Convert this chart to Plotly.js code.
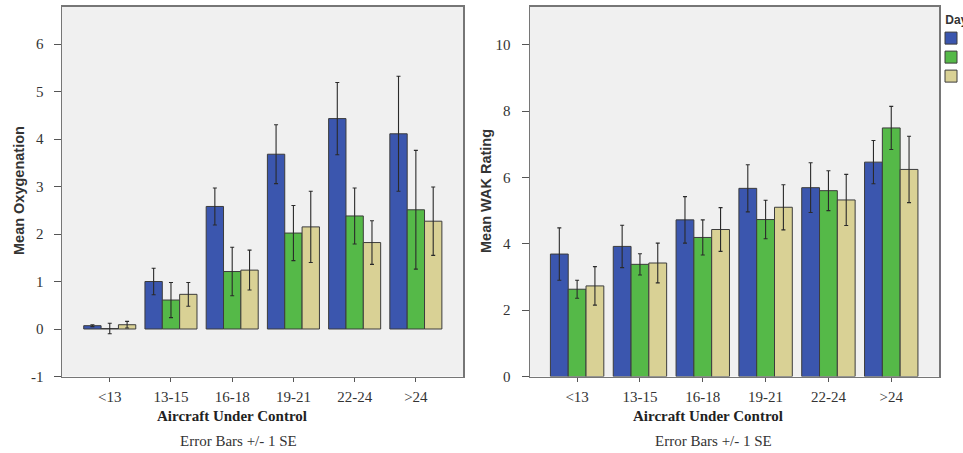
<!DOCTYPE html>
<html>
<head>
<meta charset="utf-8">
<script src="https://cdn.plot.ly/plotly-3.0.1.min.js"></script>
<style>html,body{margin:0;padding:0;background:#fff;}#chart{width:963px;height:453px;}</style>
</head>
<body>
<div id="chart"></div>
<script>
// Categories
const categories = ['<13', '13-15', '16-18', '19-21', '22-24', '>24'];
const dayNames = ['1', '2', '3'];

// Left panel: Mean Oxygenation
const oxyDay1 = [0.07, 1.00, 2.58, 3.68, 4.43, 4.11];
const oxyDay1Err = [0.02, 0.28, 0.39, 0.62, 0.76, 1.21];
const oxyDay2 = [0.01, 0.61, 1.21, 2.02, 2.38, 2.51];
const oxyDay2Err = [0.11, 0.37, 0.51, 0.58, 0.59, 1.25];
const oxyDay3 = [0.09, 0.73, 1.24, 2.15, 1.82, 2.27];
const oxyDay3Err = [0.07, 0.25, 0.42, 0.75, 0.46, 0.72];
const oxyTickVals = [-1, 0, 1, 2, 3, 4, 5, 6];
const oxyTickText = ['-1', '0', '1', '2', '3', '4', '5', '6'];

// Right panel: Mean WAK Rating
const wakDay1 = [3.69, 3.92, 4.72, 5.67, 5.69, 6.46];
const wakDay1Err = [0.79, 0.64, 0.70, 0.71, 0.75, 0.65];
const wakDay2 = [2.63, 3.38, 4.19, 4.73, 5.60, 7.49];
const wakDay2Err = [0.27, 0.32, 0.53, 0.58, 0.60, 0.65];
const wakDay3 = [2.73, 3.42, 4.43, 5.10, 5.32, 6.24];
const wakDay3Err = [0.58, 0.60, 0.66, 0.68, 0.77, 1.00];

const colors = ['#3b56ae', '#55b948', '#d9d195'];
const W = 963, H = 453;

function barTrace(y, err, i, xa, ya, showLegend) {
  return {
    type: 'bar', x: categories, y: y, name: dayNames[i],
    xaxis: xa, yaxis: ya, legendgroup: 'd' + i, showlegend: showLegend,
    marker: {color: colors[i], line: {color: '#3c3c3c', width: 1}},
    error_y: {type: 'data', array: err, visible: true, color: '#2a2a2a', thickness: 1.1, width: 2},
    hoverinfo: 'x+y'
  };
}

const data = [
  barTrace(oxyDay1, oxyDay1Err, 0, 'x', 'y', true),
  barTrace(oxyDay2, oxyDay2Err, 1, 'x', 'y', true),
  barTrace(oxyDay3, oxyDay3Err, 2, 'x', 'y', true),
  barTrace(wakDay1, wakDay1Err, 0, 'x2', 'y2', false),
  barTrace(wakDay2, wakDay2Err, 1, 'x2', 'y2', false),
  barTrace(wakDay3, wakDay3Err, 2, 'x2', 'y2', false)
];

const serif = 'Liberation Serif, Times New Roman, serif';
const sans = 'Liberation Sans, Arial, sans-serif';
const tickFont = {family: serif, size: 15, color: '#333'};
const axisCommon = {
  showline: true, mirror: true, linecolor: '#767676', linewidth: 1.5,
  showgrid: false, zeroline: false, ticks: 'outside',
  tickcolor: '#555', tickfont: tickFont, fixedrange: true
};
const yDomain = [(H - 376.5) / H, (H - 6.5) / H];

const layout = {
  width: W, height: H,
  margin: {l: 0, r: 0, t: 0, b: 0, autoexpand: false},
  paper_bgcolor: '#ffffff', plot_bgcolor: '#f0f0f0',
  barmode: 'group', bargap: 0.15, bargroupgap: 0,
  showlegend: true,
  legend: {
    x: 931 / W, y: (H - 8) / H, xanchor: 'left', yanchor: 'top',
    bgcolor: 'rgba(0,0,0,0)', borderwidth: 0,
    font: {family: sans, size: 9, color: '#333'},
    title: {text: 'Day', side: 'top center', font: {family: sans, size: 12, color: '#333', weight: 'bold'}},
    tracegroupgap: 0
  },
  xaxis: Object.assign({}, axisCommon, {
    domain: [62 / W, 463 / W], anchor: 'y', type: 'category',
    range: [-0.78, 5.77], ticklen: 4, ticklabelstandoff: 2
  }),
  yaxis: Object.assign({}, axisCommon, {
    domain: yDomain, anchor: 'x', range: [-1, 6.79],
    tickmode: 'array', tickvals: oxyTickVals, ticktext: oxyTickText,
    ticklen: 7, ticklabelstandoff: 7
  }),
  xaxis2: Object.assign({}, axisCommon, {
    domain: [530 / W, 939 / W], anchor: 'y2', type: 'category',
    range: [-0.75, 5.76], ticklen: 4, ticklabelstandoff: 2
  }),
  yaxis2: Object.assign({}, axisCommon, {
    domain: yDomain, anchor: 'x2', range: [0, 11.15], dtick: 2, tick0: 0,
    ticklen: 7, ticklabelstandoff: 8
  }),
  annotations: [
    {text: 'Mean Oxygenation', xref: 'paper', yref: 'paper', x: 19 / W, y: (H - 191) / H,
     textangle: -90, showarrow: false, xanchor: 'center', yanchor: 'middle',
     font: {family: sans, size: 14.5, color: '#333', weight: 'bold'}},
    {text: 'Mean WAK Rating', xref: 'paper', yref: 'paper', x: 486 / W, y: (H - 191) / H,
     textangle: -90, showarrow: false, xanchor: 'center', yanchor: 'middle',
     font: {family: sans, size: 14.5, color: '#333', weight: 'bold'}},
    {text: 'Aircraft Under Control', xref: 'paper', yref: 'paper', x: 232 / W, y: (H - 416) / H,
     showarrow: false, xanchor: 'center', yanchor: 'middle',
     font: {family: serif, size: 15, color: '#222', weight: 'bold'}},
    {text: 'Aircraft Under Control', xref: 'paper', yref: 'paper', x: 708 / W, y: (H - 416) / H,
     showarrow: false, xanchor: 'center', yanchor: 'middle',
     font: {family: serif, size: 15, color: '#222', weight: 'bold'}},
    {text: 'Error Bars +/- 1 SE', xref: 'paper', yref: 'paper', x: 238 / W, y: (H - 441) / H,
     showarrow: false, xanchor: 'center', yanchor: 'middle',
     font: {family: serif, size: 15, color: '#333'}},
    {text: 'Error Bars +/- 1 SE', xref: 'paper', yref: 'paper', x: 713 / W, y: (H - 441) / H,
     showarrow: false, xanchor: 'center', yanchor: 'middle',
     font: {family: serif, size: 15, color: '#333'}}
  ]
};

Plotly.newPlot('chart', data, layout, {displayModeBar: false, staticPlot: true});
</script>
</body>
</html>
